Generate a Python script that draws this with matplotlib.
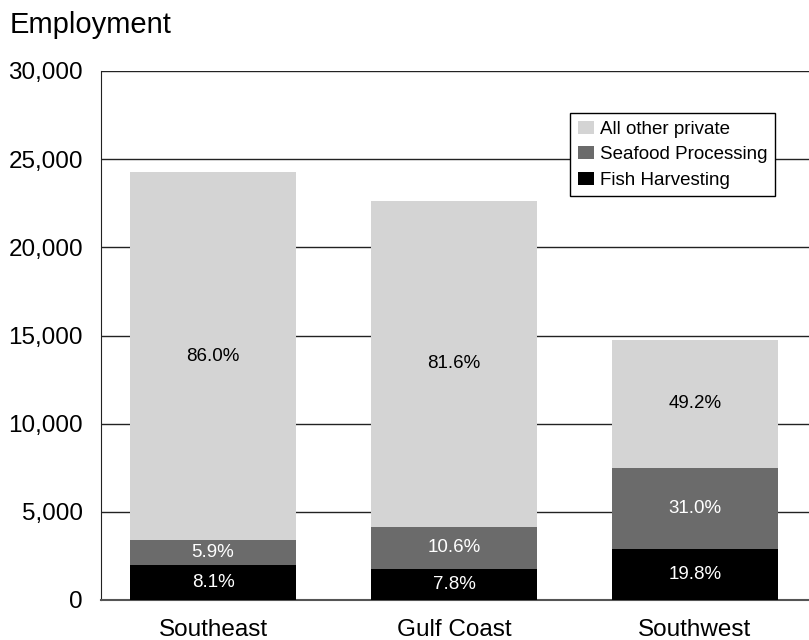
import matplotlib.pyplot as plt
import numpy as np

plt.rcParams['font.family'] = ['Liberation Sans', 'DejaVu Sans']

# data
regions = ['Southeast', 'Gulf Coast', 'Southwest']
totals = [24270, 22630, 14750]
fish_pct = [8.1, 7.8, 19.8]
seafood_pct = [5.9, 10.6, 31.0]
other_pct = [86.0, 81.6, 49.2]
series_names = ['Fish Harvesting', 'Seafood Processing', 'All other private']
colors = ['#000000', '#6b6b6b', '#d4d4d4']
text_colors = ['white', 'white', 'black']
yticks = [0, 5000, 10000, 15000, 20000, 25000, 30000]

x = np.arange(len(regions))
pcts = [fish_pct, seafood_pct, other_pct]

fig = plt.figure(figsize=(8.09, 6.4), dpi=100)
ax = fig.add_axes([101 / 809, 40 / 640, 708 / 809, 529 / 640])

bottom = np.zeros(len(regions))
handles = []
for pct, name, c, tc in zip(pcts, series_names, colors, text_colors):
    vals = np.array(pct) / 100 * np.array(totals)
    b = ax.bar(x, vals, width=0.69, bottom=bottom, color=c, label=name, zorder=3)
    handles.append(b)
    for xi, v, bt, p in zip(x, vals, bottom, pct):
        ax.text(xi, bt + v / 2, f'{p:.1f}%', ha='center', va='center',
                color=tc, fontsize=13.5, zorder=4)
    bottom += vals

ax.set_xlim(-0.465, 2.473)
ax.set_ylim(0, 30000)
ax.set_yticks(yticks)
ax.set_yticklabels([f'{t:,}' for t in yticks], fontsize=17.5)
ax.set_xticks(x)
ax.set_xticklabels(regions, fontsize=17.5)
ax.tick_params(axis='both', length=0)
ax.tick_params(axis='y', pad=13)
ax.tick_params(axis='x', pad=14)
ax.yaxis.grid(True, color='#222222', linewidth=1, zorder=0)
ax.set_axisbelow(True)
for s in ['right', 'top']:
    ax.spines[s].set_visible(False)
ax.spines['left'].set_color('#222222')
ax.spines['bottom'].set_color('#555555')
ax.spines['bottom'].set_linewidth(1.5)

leg = ax.legend(handles[::-1], series_names[::-1], loc='upper right',
                bbox_to_anchor=(674 / 708, 1 - 42 / 529), fontsize=13.5,
                frameon=True, fancybox=False, framealpha=1, edgecolor='black',
                handlelength=0.9, handleheight=0.7, handletextpad=0.3,
                labelspacing=0.45, borderpad=0.4, borderaxespad=0)
leg.get_frame().set_linewidth(1)
leg.set_zorder(5)

fig.text(10 / 809, 1 - 25 / 640, 'Employment', fontsize=21, va='center', ha='left')

fig.savefig('out.png', dpi=100)
